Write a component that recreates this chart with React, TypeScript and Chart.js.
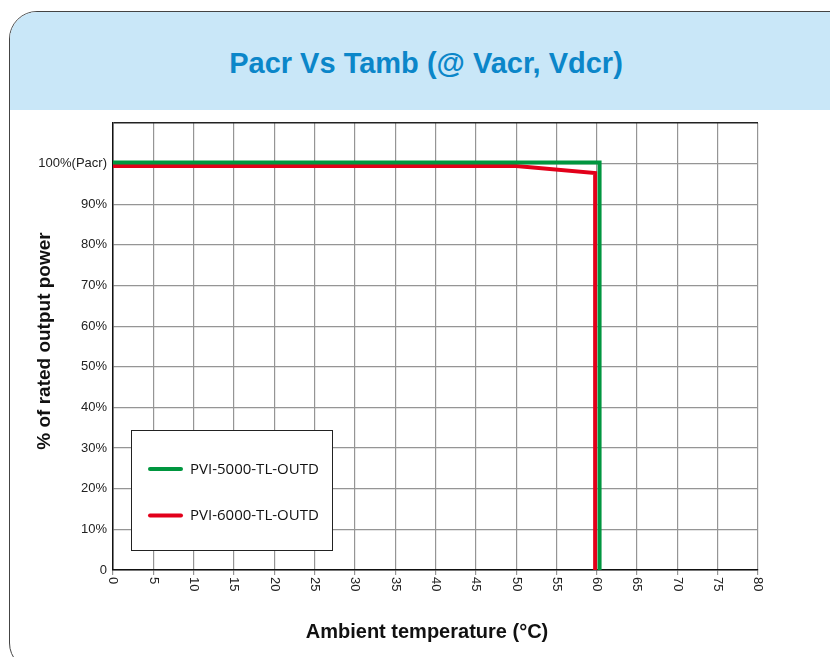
import React, { useEffect, useRef } from "react";
import { Chart, registerables } from "chart.js";

Chart.register(...registerables);

const titleText = "Pacr Vs Tamb (@ Vacr, Vdcr)";
const xAxisTitle = "Ambient temperature (°C)";
const yAxisTitle = "% of rated output power";

const xTickValues = [0, 5, 10, 15, 20, 25, 30, 35, 40, 45, 50, 55, 60, 65, 70, 75, 80];
const yTickLabels = ["0", "10%", "20%", "30%", "40%", "50%", "60%", "70%", "80%", "90%", "100%(Pacr)", ""];

const seriesNames = ["PVI-5000-TL-OUTD", "PVI-6000-TL-OUTD"];
const seriesColors = ["#00963F", "#E2001A"];

const greenTemp = [0, 60.35, 60.35];
const greenPower = [100.3, 100.3, 0];
const redTemp = [0, 50, 59.8, 59.8];
const redPower = [99.4, 99.4, 97.7, 0];

const FONT = "'Liberation Sans', Arial, sans-serif";

export default function App() {
  const ref = useRef<HTMLCanvasElement | null>(null);

  useEffect(() => {
    const canvas = ref.current;
    if (!canvas) return;

    const overlay = {
      id: "overlay",
      afterDraw(chart: any) {
        const ctx = chart.ctx;
        const xs = chart.scales.x;
        const area = chart.chartArea;
        ctx.save();
        // x tick labels rotated clockwise
        ctx.fillStyle = "#222";
        ctx.font = `13px ${FONT}`;
        ctx.textAlign = "left";
        ctx.textBaseline = "middle";
        xTickValues.forEach((v) => {
          const px = xs.getPixelForValue(v);
          ctx.save();
          ctx.translate(px, area.bottom + 7);
          ctx.rotate(Math.PI / 2);
          ctx.fillText(String(v), 0, 0);
          ctx.restore();
        });
        // axis titles
        ctx.fillStyle = "#111";
        ctx.textAlign = "center";
        ctx.textBaseline = "middle";
        ctx.font = `bold 20px ${FONT}`;
        ctx.fillText(xAxisTitle, 427, 632);
        ctx.font = `bold 19px ${FONT}`;
        ctx.save();
        ctx.translate(45, 341);
        ctx.rotate(-Math.PI / 2);
        ctx.fillText(yAxisTitle, 0, 0);
        ctx.restore();
        // legend
        ctx.fillStyle = "#fff";
        ctx.fillRect(131.5, 430.5, 201, 120);
        ctx.strokeStyle = "#222";
        ctx.lineWidth = 1;
        ctx.strokeRect(131.5, 430.5, 201, 120);
        const rows = [469, 515.5];
        seriesNames.forEach((name, i) => {
          ctx.strokeStyle = seriesColors[i];
          ctx.lineWidth = 4;
          ctx.lineCap = "round";
          ctx.beginPath();
          ctx.moveTo(150, rows[i]);
          ctx.lineTo(181, rows[i]);
          ctx.stroke();
          ctx.fillStyle = "#111";
          ctx.font = `15px 'Open Sans', sans-serif`;
          ctx.textAlign = "left";
          ctx.textBaseline = "middle";
          ctx.fillText(name, 190, rows[i] + 0.5);
        });
        ctx.restore();
      },
    };

    const chart = new Chart(canvas, {
      type: "line",
      data: {
        datasets: [
          {
            label: seriesNames[0],
            data: greenTemp.map((t, i) => ({ x: t, y: greenPower[i] })),
            borderColor: seriesColors[0],
            borderWidth: 4,
            pointRadius: 0,
            borderJoinStyle: "miter",
            fill: false,
            tension: 0,
          },
          {
            label: seriesNames[1],
            data: redTemp.map((t, i) => ({ x: t, y: redPower[i] })),
            borderColor: seriesColors[1],
            borderWidth: 4,
            pointRadius: 0,
            borderJoinStyle: "miter",
            fill: false,
            tension: 0,
          },
        ],
      },
      options: {
        responsive: false,
        animation: false,
        devicePixelRatio: 1,
        layout: { padding: { left: 0, right: 72, top: 123, bottom: 0 } },
        plugins: { legend: { display: false }, tooltip: { enabled: false }, title: { display: false } },
        scales: {
          x: {
            type: "linear",
            min: 0,
            max: 80,
            afterBuildTicks: (s: any) => {
              s.ticks = xTickValues.map((v) => ({ value: v }));
            },
            ticks: { display: false, stepSize: 5 },
            grid: {
              color: "#959595",
              lineWidth: 1.2,
              tickLength: 5,
              drawTicks: true,
            },
            border: { display: true, color: "#111", width: 1.5 },
            afterFit: (s: any) => {
              s.height = 87;
            },
          },
          y: {
            type: "linear",
            min: 0,
            max: 110,
            ticks: {
              stepSize: 10,
              color: "#222",
              font: { family: FONT, size: 13 },
              padding: 6,
              callback: (_v: any, i: number) => yTickLabels[i],
            },
            grid: {
              color: (c: any) => (c.tick && c.tick.value === 110 ? "#222" : "#959595"),
              lineWidth: (c: any) => (c.tick && c.tick.value === 110 ? 1.5 : 1.2),
              drawTicks: false,
            },
            border: { display: true, color: "#111", width: 1.5 },
            afterFit: (s: any) => {
              s.width = 113;
            },
          },
        },
      },
      plugins: [overlay],
    });
    return () => chart.destroy();
  }, []);

  return (
    <div style={{ position: "fixed", left: 0, top: 0, width: 830, height: 657, overflow: "hidden", background: "#fff" }}>
      <div
        style={{
          position: "absolute",
          left: 9,
          top: 11,
          width: 900,
          height: 660,
          border: "1.3px solid #444",
          borderRadius: 28,
          overflow: "hidden",
          boxSizing: "border-box",
          background: "#fff",
        }}
      >
        <div style={{ height: 98, background: "#C9E7F8" }} />
      </div>
      <div
        style={{
          position: "absolute",
          left: 0,
          width: 852,
          top: 46,
          textAlign: "center",
          fontFamily: FONT,
          fontWeight: "bold",
          fontSize: 29,
          lineHeight: "34px",
          color: "#0B86C9",
        }}
      >
        {titleText}
      </div>
      <canvas ref={ref} width={830} height={657} style={{ position: "absolute", left: 0, top: 0, width: 830, height: 657 }} />
    </div>
  );
}
